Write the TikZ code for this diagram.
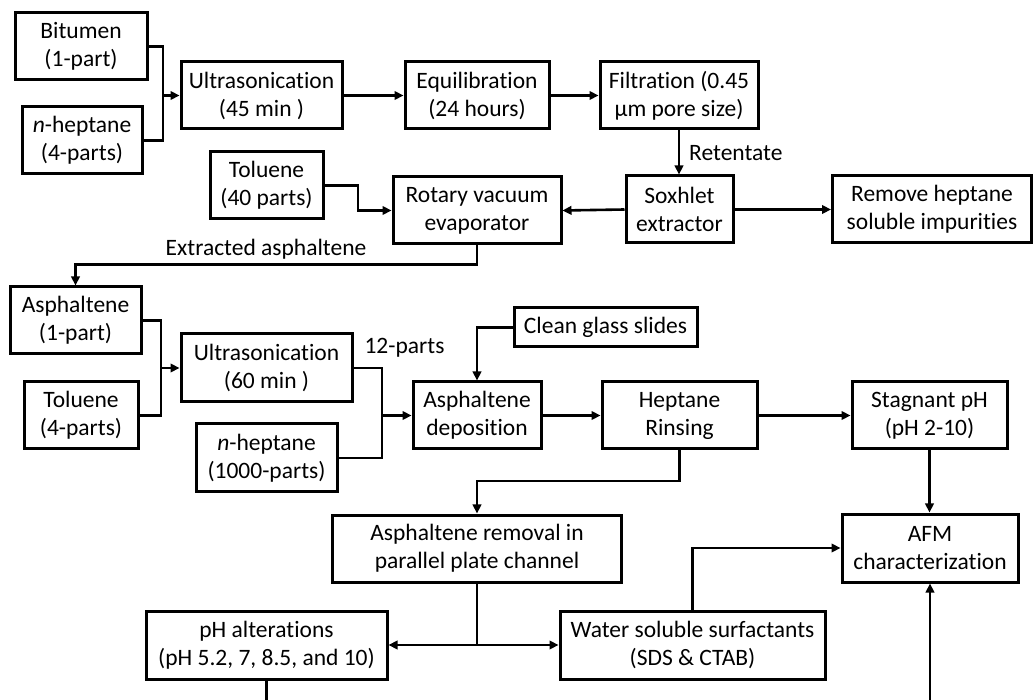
\documentclass[tikz,border=0pt]{standalone}
\usepackage{fontspec}
\setmainfont{Carlito}[Ligatures={NoCommon,NoContextual}]
\usetikzlibrary{arrows.meta}
\begin{document}
\begin{tikzpicture}[x=1pt,y=-1pt,
  box/.style={draw,line width=3pt,align=center,inner sep=0pt,font=\fontsize{23.5}{28}\selectfont},
  lbl/.style={inner sep=0pt,font=\fontsize{23.5}{28}\selectfont},
  conn/.style={line width=2.6pt},
  arr/.style={line width=2.6pt,-{Triangle[length=9pt,width=8.5pt]}}]
\useasboundingbox (0,0) rectangle (1034,700);

% row 1
\node[box,minimum width=132pt,minimum height=67pt] (bit) at (81,46.5) {Bitumen\\(1-part)};
\node[box,minimum width=120pt,minimum height=67pt] (hep1) at (82,140.5) {\textit{n}-heptane\\(4-parts)};
\node[box,minimum width=161pt,minimum height=67pt] (us1) at (261.5,95.5) {Ultrasonication\\(45 min )};
\node[box,minimum width=144pt,minimum height=67pt] (equ) at (477,95.5) {Equilibration\\(24 hours)};
\node[box,minimum width=158pt,minimum height=67pt] (fil) at (679,95.5) {Filtration (0.45\\µm pore size)};
\node[box,minimum width=113pt,minimum height=67pt] (tol1) at (266.5,185.5) {Toluene\\(40 parts)};
\node[box,minimum width=168pt,minimum height=67pt] (rot) at (477,210.5) {Rotary vacuum\\evaporator};
\node[box,minimum width=107pt,minimum height=67pt] (sox) at (679.5,209.5) {Soxhlet\\extractor};
\node[box,minimum width=199pt,minimum height=67pt] (rem) at (932,209.5) {Remove heptane\\soluble impurities};

% row 2
\node[box,minimum width=131pt,minimum height=67pt] (asp) at (75.5,320.5) {Asphaltene\\(1-part)};
\node[box,minimum width=114pt,minimum height=67pt] (tol2) at (81,415.5) {Toluene\\(4-parts)};
\node[box,minimum width=171pt,minimum height=68pt] (us2) at (266.5,368) {Ultrasonication\\(60 min )};
\node[box,minimum width=141pt,minimum height=68pt] (hep2) at (266.5,458) {\textit{n}-heptane\\(1000-parts)};
\node[box,minimum width=128pt,minimum height=67pt] (dep) at (477,415.5) {Asphaltene\\deposition};
\node[box,minimum width=183pt,minimum height=39pt] (gls) at (605.5,327.5) {Clean glass slides};
\node[box,minimum width=155pt,minimum height=67pt] (rin) at (679.5,415.5) {Heptane\\Rinsing};
\node[box,minimum width=155pt,minimum height=67pt] (stg) at (929.5,415.5) {Stagnant pH\\(pH 2-10)};

% row 3
\node[box,minimum width=289pt,minimum height=67pt] (remv) at (477,548.5) {Asphaltene removal in\\parallel plate channel};
\node[box,minimum width=176pt,minimum height=68pt] (afm) at (930,548) {AFM\\characterization};
\node[box,minimum width=241pt,minimum height=68pt] (pha) at (266.5,645) {pH alterations\\(pH 5.2, 7, 8.5, and 10)};
\node[box,minimum width=265pt,minimum height=68pt] (wat) at (692.5,645) {Water soluble surfactants\\(SDS \& CTAB)};

% labels
\node[lbl,anchor=west] (lret) at (689,153) {Retentate};
\node[lbl] (lext) at (266,249) {Extracted asphaltene};
\node[lbl] (l12) at (404.5,348) {12-parts};

% helper coordinates
\coordinate (j1) at (163,95.5);
\coordinate (k1) at (358,0);
\coordinate (k2) at (0,264.5);
\coordinate (j2) at (161,368);
\coordinate (j3) at (382,415.5);
\coordinate (k3) at (0,481);
\coordinate (j4) at (477,645);
\coordinate (e1) at (266.5,700);
\coordinate (e2) at (930,700);

% connectors
\draw[conn] (bit.east) -| (j1);
\draw[conn] (hep1.east) -| (j1);
\draw[arr] (j1) -- (us1.west);
\draw[arr] (us1.east) -- (equ.west);
\draw[arr] (equ.east) -- (fil.west);
\draw[arr] (fil.south) -- (fil.south |- sox.north);
\draw[arr] (tol1.east) -- (tol1.east -| k1) |- (rot.west);
\draw[arr] (sox.west) -- (rot.east);
\draw[arr] (sox.east) -- (rem.west);
\draw[arr] (rot.south) -- (rot.south |- k2) -| (asp.north);

\draw[conn] (asp.east) -| (j2);
\draw[conn] (tol2.east) -| (j2);
\draw[arr] (j2) -- (us2.west);
\draw[conn] (us2.east) -| (j3);
\draw[conn] (hep2.east) -| (j3);
\draw[arr] (j3) -- (dep.west);
\draw[arr] (gls.west) -| (dep.north);
\draw[arr] (dep.east) -- (rin.west);
\draw[arr] (rin.east) -- (stg.west);
\draw[arr] (rin.south) -- (rin.south |- k3) -| (remv.north);
\draw[arr] (stg.south) -- (stg.south |- afm.north);

\draw[conn] (remv.south) -- (j4);
\draw[arr] (j4) -- (pha.east);
\draw[arr] (j4) -- (wat.west);
\draw[arr] (wat.north) |- (afm.west);
\draw[conn] (pha.south) -- (e1);
\draw[arr] (e2) -- (afm.south);
\end{tikzpicture}
\end{document}
